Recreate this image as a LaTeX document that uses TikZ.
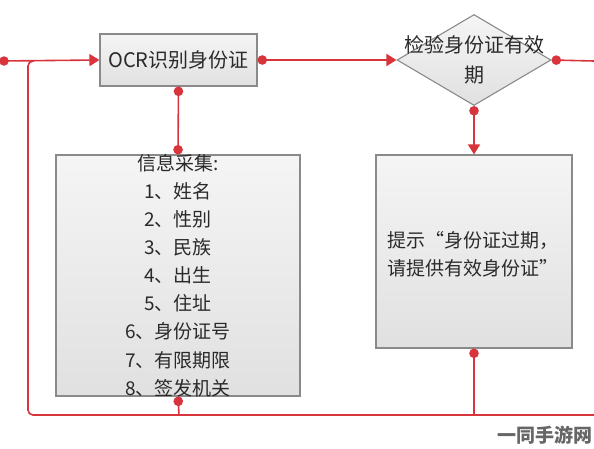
\documentclass[tikz,border=0pt]{standalone}
\usepackage{fontspec}
\setmainfont{Noto Sans CJK SC}
\usetikzlibrary{arrows.meta,shapes.geometric}
\definecolor{ln}{HTML}{D8343C}
\definecolor{bx}{HTML}{8A8A8A}
\definecolor{tx}{HTML}{2A2A2A}
\begin{document}
\begin{tikzpicture}[x=1pt,y=-1pt,
  box/.style={draw=bx,line width=1.1pt,top color=black!4,bottom color=black!12,inner sep=0pt},
  lbl/.style={text=tx,font=\fontsize{19}{28.1}\selectfont,inner sep=0pt},
  conn/.style={draw=ln,line width=1.6pt},
  dot/.style={{Circle[length=9.5pt]}-},
  dotarr/.style={{Circle[length=9.5pt]}-{Triangle[length=10pt,width=12pt]}},
  arr/.style={-{Triangle[length=10pt,width=12pt]}},
  dotdot/.style={{Circle[length=9.5pt]}-{Circle[length=9.5pt]}}]
\useasboundingbox (0,0) rectangle (594,448);
% boxes
\node[box,minimum width=157pt,minimum height=52pt] (ocr) at (178.5,60) {};
\node[lbl,font=\fontsize{20}{24}\selectfont] (ocrtxt) at (ocr) {OCR识别身份证};
\node[box,diamond,minimum width=154pt,minimum height=91pt] (chk) at (474,60) {};
\node[lbl,align=center,font=\fontsize{20}{30}\selectfont] (chktxt) at (474,60) {检验身份证有效\\期};
\node[box,minimum width=244pt,minimum height=241pt] (info) at (178,275.5) {};
\node[lbl,align=center] (infotxt) at (178,275.5) {信息采集:\\1、姓名\\2、性别\\3、民族\\4、出生\\5、住址\\6、身份证号\\7、有限期限\\8、签发机关};
\node[box,minimum width=196pt,minimum height=193pt] (tip) at (474,251.5) {};
\node[lbl,align=left,anchor=west] (tiptxt) at (387,254) {提示“身份证过期，\\请提供有效身份证”};
% free ends
\coordinate (lin) at (0,61);
\coordinate (rout) at (594,61);
\coordinate (br) at (594,415);
\coordinate (bl) at (28,415);
\coordinate (tl) at (28,61);
\coordinate (ib) at (179,415);
\coordinate (tb) at (474,415);
% connectors
\draw[conn,arr] (lin) -- (ocr.west);
\fill[ln] (4,61) circle (4.75pt);
\draw[conn,dotarr] (ocr.east) -- (chk.west);
\draw[conn,dot] (chk.east) -- (rout);
\draw[conn,dotarr] (chk.south) -- (tip.north);
\draw[conn,dotdot] (ocr.south) -- (info.north);
\draw[conn,dot,rounded corners=4pt] (info.south) -- (ib);
\draw[conn,dot,rounded corners=4pt] (tip.south) -- (tb);
\draw[conn,rounded corners=5pt] (br) -- (bl) -- (tl) -- (32,61);
% watermark
\node[inner sep=0pt,text=black!60,font=\fontsize{19}{22}\selectfont\bfseries] (wm) at (545,435) {一同手游网};
\end{tikzpicture}
\end{document}
